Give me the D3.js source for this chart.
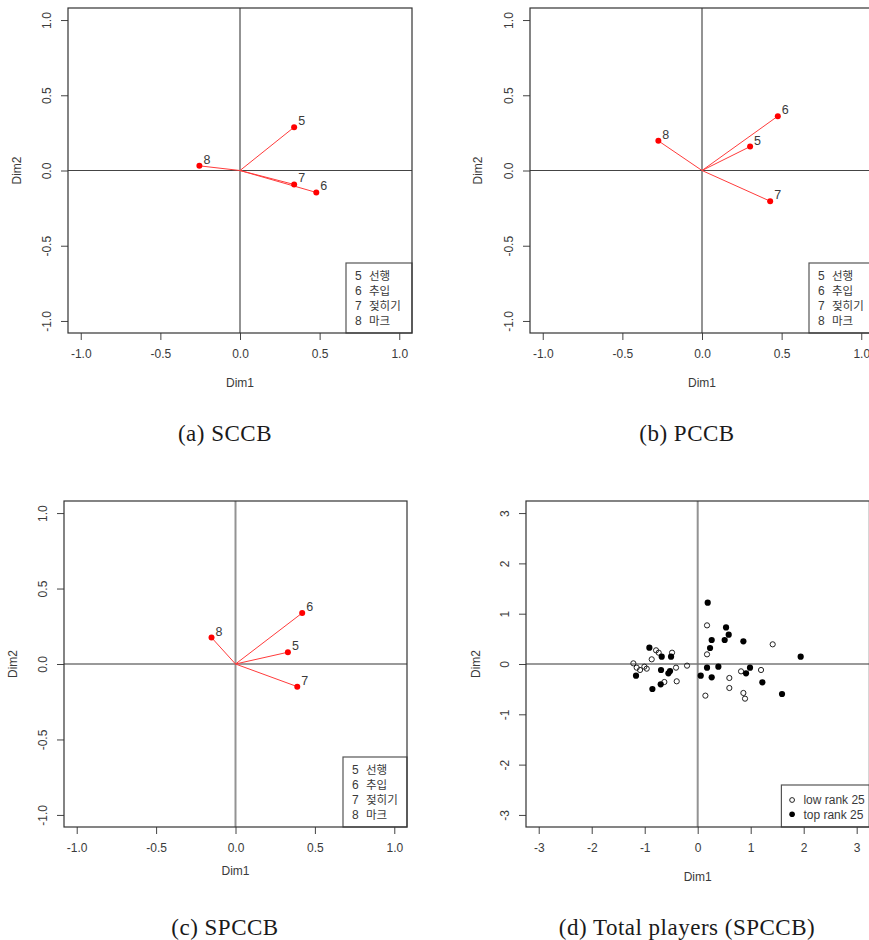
<!DOCTYPE html>
<html>
<head>
<meta charset="utf-8">
<script src="https://cdn.jsdelivr.net/npm/d3@7/dist/d3.min.js"></script>
<style>
  html, body { margin: 0; padding: 0; background: #fff; }
  svg { display: block; }
</style>
</head>
<body>
<svg id="chart" width="869" height="940"></svg>
<script>
// ---------------- data ----------------
const varIds   = ["5", "6", "7", "8"];
const varNames = ["선행", "추입", "젖히기", "마크"];

const sccbDim1  = [0.340, 0.479, 0.340, -0.255];
const sccbDim2  = [0.288, -0.146, -0.093, 0.031];

const pccbDim1  = [0.302, 0.476, 0.428, -0.274];
const pccbDim2  = [0.159, 0.361, -0.204, 0.197];

const spccbDim1 = [0.330, 0.420, 0.389, -0.151];
const spccbDim2 = [0.078, 0.338, -0.150, 0.175];

const loadingTicks = [-1.0, -0.5, 0.0, 0.5, 1.0];
const playerTicks  = [-3, -2, -1, 0, 1, 2, 3];

const topRankDim1 = [0.189, 0.535, 0.585, 0.264, 0.509, 0.862, 0.233, -0.912, -0.679, -0.503,
                     1.943, 0.176, 0.390, 0.987, -0.692, -0.522, -0.553, 0.057, -1.164, 0.264,
                     0.912, 1.220, -0.698, -0.855, 1.591];
const topRankDim2 = [1.219, 0.728, 0.583, 0.477, 0.477, 0.450, 0.318, 0.325, 0.146, 0.146,
                     0.146, -0.073, -0.053, -0.073, -0.119, -0.139, -0.185, -0.232, -0.232, -0.265,
                     -0.185, -0.364, -0.404, -0.497, -0.596];

const lowRankDim1 = [0.176, 1.415, -0.786, -0.736, -0.484, -0.868, 0.176, -1.214, -1.151, -1.088,
                     -1.006, -0.962, -0.409, -0.201, -0.629, -0.396, 0.597, 0.597, 0.818, 1.195,
                     0.862, 0.893, 0.145];
const lowRankDim2 = [0.768, 0.391, 0.272, 0.225, 0.225, 0.093, 0.192, 0.013, -0.073, -0.119,
                     -0.053, -0.093, -0.073, -0.033, -0.358, -0.344, -0.278, -0.477, -0.146, -0.119,
                     -0.576, -0.689, -0.629];

const groupLabels = ["low rank 25", "top rank 25"];
const captions = ["(a) SCCB", "(b) PCCB", "(c) SPCCB", "(d) Total players (SPCCB)"];
const axisTitles = ["Dim1", "Dim2"];

// ---------------- drawing ----------------
const svg = d3.select("#chart");
const SANS = "'Liberation Sans', Arial, sans-serif";
const TXT = "#3a3a3a";

function panel(cfg) {
  const g = svg.append("g");
  const x = d3.scaleLinear().domain([-cfg.lim, cfg.lim]).range([cfg.left, cfg.right]);
  const y = d3.scaleLinear().domain([-cfg.lim, cfg.lim]).range([cfg.bottom, cfg.top]);

  const clipId = "clip" + cfg.id;
  svg.append("clipPath").attr("id", clipId).append("rect")
    .attr("x", cfg.left).attr("y", cfg.top)
    .attr("width", cfg.right - cfg.left).attr("height", cfg.bottom - cfg.top);

  // axes
  const xAxis = d3.axisBottom(x).tickValues(cfg.ticks).tickSize(7).tickPadding(9)
    .tickFormat(cfg.fmt);
  const gx = g.append("g").attr("transform", `translate(0,${cfg.bottom})`).call(xAxis);
  gx.select(".domain").remove();
  gx.selectAll(".tick line").attr("stroke", "#444");
  gx.selectAll(".tick text").attr("font-family", SANS).attr("font-size", 12)
    .attr("fill", TXT);

  const yAxis = d3.axisLeft(y).tickValues(cfg.ticks).tickSize(7).tickFormat(cfg.fmt);
  const gy = g.append("g").attr("transform", `translate(${cfg.left},0)`).call(yAxis);
  gy.select(".domain").remove();
  gy.selectAll(".tick line").attr("stroke", "#444");
  gy.selectAll(".tick text").remove();
  gy.selectAll(".tick").append("text")
    .attr("transform", "translate(-21,0) rotate(-90)")
    .attr("text-anchor", "middle").attr("dy", "0.35em")
    .attr("font-family", SANS).attr("font-size", 12).attr("fill", TXT)
    .text(cfg.fmt);

  // axis titles
  g.append("text").attr("x", x(0)).attr("y", cfg.dim1Y).attr("text-anchor", "middle")
    .attr("dy", "0.35em").attr("font-family", SANS).attr("font-size", 12).attr("fill", TXT)
    .text(axisTitles[0]);
  g.append("text").attr("transform", `translate(${cfg.dim2X},${y(0)}) rotate(-90)`)
    .attr("text-anchor", "middle").attr("dy", "0.35em")
    .attr("font-family", SANS).attr("font-size", 12).attr("fill", TXT)
    .text(axisTitles[1]);

  const inner = g.append("g").attr("clip-path", `url(#${clipId})`);
  inner.append("line").attr("x1", x(0)).attr("x2", x(0)).attr("y1", cfg.top).attr("y2", cfg.bottom)
    .attr("stroke", "#939393").attr("stroke-width", 2);
  inner.append("line").attr("x1", cfg.left).attr("x2", cfg.right).attr("y1", y(0)).attr("y2", y(0))
    .attr("stroke", cfg.hColor).attr("stroke-width", cfg.hWidth);

  cfg.draw(inner, x, y);

  // legend
  const lg = g.append("g");
  lg.append("rect").attr("x", cfg.right - cfg.legW).attr("y", cfg.bottom - cfg.legH)
    .attr("width", cfg.legW).attr("height", cfg.legH)
    .attr("fill", "#fff").attr("stroke", "#555").attr("stroke-width", 1.2);
  cfg.legend(lg, cfg.right - cfg.legW, cfg.bottom - cfg.legH);

  // box
  g.append("rect").attr("x", cfg.left).attr("y", cfg.top)
    .attr("width", cfg.right - cfg.left).attr("height", cfg.bottom - cfg.top)
    .attr("fill", "none").attr("stroke", "#333").attr("stroke-width", 1.2);

  // caption
  svg.append("text").attr("x", cfg.capX).attr("y", cfg.capY).attr("text-anchor", "middle")
    .attr("font-family", "'Liberation Serif', 'Times New Roman', serif").attr("font-size", 23)
    .attr("letter-spacing", "0.5px")
    .attr("fill", "#1a1a1a").text(cfg.caption);
}

function loadingDraw(d1, d2) {
  return function (inner, x, y) {
    const data = varIds.map((id, i) => ({ id, a: d1[i], b: d2[i] }));
    inner.selectAll("line.vec").data(data).join("line").attr("class", "vec")
      .attr("x1", x(0)).attr("y1", y(0)).attr("x2", d => x(d.a)).attr("y2", d => y(d.b))
      .attr("stroke", "#ff3b3b").attr("stroke-width", 1);
    inner.selectAll("circle.pt").data(data).join("circle").attr("class", "pt")
      .attr("cx", d => x(d.a)).attr("cy", d => y(d.b)).attr("r", 3).attr("fill", "#ff0000");
    svg.append("g").selectAll("text").data(data).join("text")
      .attr("x", d => x(d.a) + 4).attr("y", d => y(d.b) - 2)
      .attr("font-family", SANS).attr("font-size", 12.5).attr("fill", TXT)
      .text(d => d.id);
  };
}

function loadingLegend(lg, lx, ly) {
  varIds.forEach((id, i) => {
    const row = lg.append("text").attr("x", lx + 9).attr("y", ly + 13 + 15 * i).attr("dy", "0.35em")
      .attr("font-family", SANS).attr("font-size", 12).attr("fill", TXT);
    row.append("tspan").text(id);
    row.append("tspan").attr("x", lx + 23)
      .attr("font-family", "'Noto Sans CJK KR', sans-serif").attr("font-size", 11.5)
      .text(varNames[i]);
  });
}

const fmt1 = d3.format(".1f");
const hyph = s => s.replace("\u2212", "-");
const fmtLoad = v => hyph(fmt1(v));
const fmtPl = v => hyph(String(v));

const common = { lim: 1.08, ticks: loadingTicks, fmt: fmtLoad, legW: 66, legH: 70,
                 legend: loadingLegend };

panel(Object.assign({}, common, {
  id: "a", left: 68, right: 412, top: 8, bottom: 333,
  dim1Y: 383, dim2X: 17, hColor: "#444", hWidth: 1.2,
  draw: loadingDraw(sccbDim1, sccbDim2), caption: captions[0], capX: 225, capY: 441
}));
panel(Object.assign({}, common, {
  id: "b", left: 530, right: 874, top: 8, bottom: 333,
  dim1Y: 383, dim2X: 478, hColor: "#444", hWidth: 1.2, legW: 65,
  draw: loadingDraw(pccbDim1, pccbDim2), caption: captions[1], capX: 687, capY: 441
}));
panel(Object.assign({}, common, {
  id: "c", left: 64, right: 407, top: 501, bottom: 827,
  dim1Y: 871, dim2X: 13, hColor: "#777", hWidth: 1.5, legW: 64,
  draw: loadingDraw(spccbDim1, spccbDim2), caption: captions[2], capX: 225, capY: 935
}));

panel({
  id: "d", lim: 3.24, ticks: playerTicks, fmt: fmtPl, left: 526, right: 869.4, top: 501, bottom: 827,
  dim1Y: 877, dim2X: 476, hColor: "#777", hWidth: 1.5, legW: 88, legH: 42,
  caption: captions[3], capX: 687, capY: 935,
  draw: function (inner, x, y) {
    inner.selectAll("circle.low").data(lowRankDim1.map((v, i) => [v, lowRankDim2[i]]))
      .join("circle").attr("class", "low")
      .attr("cx", d => x(d[0])).attr("cy", d => y(d[1])).attr("r", 2.6)
      .attr("fill", "none").attr("stroke", "#222").attr("stroke-width", 1);
    inner.selectAll("circle.top").data(topRankDim1.map((v, i) => [v, topRankDim2[i]]))
      .join("circle").attr("class", "top")
      .attr("cx", d => x(d[0])).attr("cy", d => y(d[1])).attr("r", 3.1)
      .attr("fill", "#000");
  },
  legend: function (lg, lx, ly) {
    groupLabels.forEach((lab, i) => {
      const cy = ly + 15 + 14.3 * i;
      const c = lg.append("circle").attr("cx", lx + 10.7).attr("cy", cy);
      if (i === 0) c.attr("r", 2.4).attr("fill", "none").attr("stroke", "#222");
      else c.attr("r", 2.8).attr("fill", "#000");
      lg.append("text").attr("x", lx + 22).attr("y", cy).attr("dy", "0.35em")
        .attr("font-family", SANS).attr("font-size", 12).attr("fill", TXT).text(lab);
    });
  }
});
</script>
</body>
</html>
